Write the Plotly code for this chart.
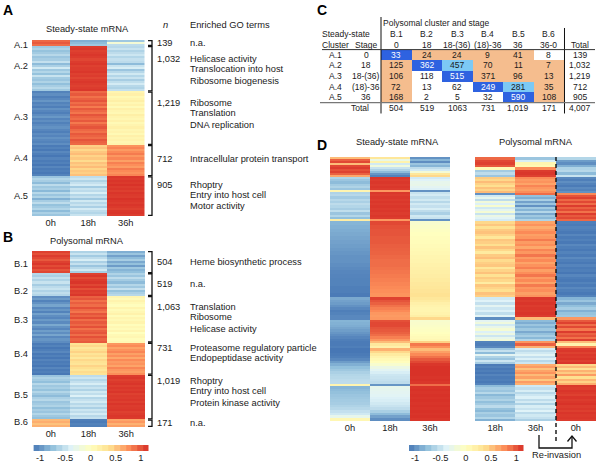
import plotly.graph_objects as go

# ---------- Panel A: steady-state mRNA (one inner list per cluster, rows top to bottom)
A_clusters = ["A.1", "A.2", "A.3", "A.4", "A.5"]
A_n = [139, 1032, 1219, 712, 905]
A_0h = [
    [0.92, 0.98, 0.9],
    [-0.7,-0.62,-0.74,-0.68,-0.58,-0.72,-0.66,-0.52,-0.78,-0.64,-0.45,-0.7,-0.6,-0.74,-0.5,-0.68,-0.72,-0.62,-0.76,-0.66,-0.58,-0.7],
    [-1.08,-1.02,-1.1,-1.05,-0.98,-1.08,-1.04,-1.1,-1.0,-1.06,-1.1,-1.03,-0.97,-1.07,-1.02,-1.09,-1.04,-1.0,-1.06,-1.1,-1.03,-1.07,-1.0,-1.05,-1.08,-1.02],
    [-1.12,-1.08,-1.13,-1.05,-1.1,-1.14,-1.07,-1.12,-1.09,-1.14,-1.06,-1.12,-1.1,-1.13,-1.08],
    [-0.72,-0.6,-0.66,-0.78,-0.56,-0.7,-0.64,-0.8,-0.58,-0.72,-0.62,-0.84,-0.66,-0.55,-0.74,-0.68,-0.6,-0.78,-0.64,-0.72],
]
A_18h = [
    [-0.85, -0.78, -0.7],
    [1.1,1.12,1.08,1.1,1.12,1.1,1.06,1.1,1.12,1.08,1.1,1.1,1.12,1.08,1.1,1.06,1.1,1.12,1.1,1.08,1.1,1.12],
    [0.92,0.98,0.88,0.95,1.0,0.9,0.96,0.84,0.98,0.92,0.86,1.0,0.94,0.9,0.98,0.85,0.95,1.0,0.92,0.88,0.98,0.94,0.9,1.0,0.95,0.92],
    [0.46,0.52,0.42,0.5,0.55,0.44,0.5,0.4,0.52,0.47,0.55,0.43,0.5,0.46,0.53],
    [-0.55,-0.48,-0.62,-0.52,-0.44,-0.68,-0.5,-0.56,-0.42,-0.6,-0.52,-0.7,-0.46,-0.58,-0.5,-0.64,-0.44,-0.55,-0.6,-0.5],
]
A_36h = [
    [-0.7, -0.15, -0.55],
    [-0.58,-0.5,-0.62,-0.55,-0.48,-0.6,-0.52,-0.56,-0.78,-0.5,-0.42,-0.72,-0.58,-0.46,-0.6,-0.5,-0.66,-0.54,-0.44,-0.58,-0.62,-0.52],
    [0.12,0.18,0.08,0.14,0.2,0.1,0.16,0.06,0.18,0.12,0.09,0.2,0.14,0.1,0.17,0.07,0.13,0.19,0.11,0.15,0.08,0.18,0.12,0.16,0.1,0.14],
    [0.74,0.8,0.7,0.78,0.84,0.72,0.8,0.68,0.82,0.76,0.7,0.84,0.78,0.74,0.8],
    [1.12,1.1,1.13,1.11,1.14,1.1,1.12,1.09,1.13,1.11,1.1,1.14,1.12,1.1,1.13,1.11,1.08,1.12,1.13,1.1],
]

# ---------- Panel B: polysomal mRNA
B_clusters = ["B.1", "B.2", "B.3", "B.4", "B.5", "B.6"]
B_n = [504, 519, 1063, 731, 1019, 171]
B_0h = [
    [1.08,1.02,1.1,1.05,0.98,1.08,1.12,1.04,1.1,1.0,1.06],
    [-0.58,-0.64,-0.52,-0.62,-0.5,-0.66,-0.56,-0.5,-0.62,-0.54,-0.6],
    [-1.02,-0.95,-1.08,-1.0,-0.9,-1.05,-0.98,-1.08,-0.92,-1.02,-1.06,-0.96,-1.04,-0.88,-1.0,-1.06,-0.94,-1.02,-0.9,-1.05,-0.98,-1.03],
    [-1.12,-1.08,-1.14,-1.1,-1.05,-1.13,-1.09,-1.14,-1.07,-1.12,-1.1,-1.14,-1.06,-1.12,-1.09,-1.13],
    [-0.72,-0.62,-0.68,-0.76,-0.58,-0.7,-0.65,-0.74,-0.6,-0.7,-0.78,-0.64,-0.58,-0.72,-0.68,-0.62,-0.76,-0.66,-0.72,-0.6,-0.7,-0.75],
    [0.56, 0.62, 0.52, 0.6],
]
B_18h = [
    [-0.62,-0.5,-0.68,-0.55,-0.42,-0.64,-0.52,-0.72,-0.58,-0.46,-0.66],
    [1.08,1.12,1.04,1.1,1.13,1.06,1.12,1.02,1.1,1.08,1.12],
    [0.95,1.0,0.88,0.96,0.9,1.02,0.92,0.86,1.0,0.94,1.04,0.9,0.98,0.92,1.02,0.88,0.96,1.0,0.9,1.02,0.94,0.98],
    [0.35,0.42,0.3,0.38,0.45,0.33,0.4,0.28,0.42,0.36,0.32,0.44,0.38,0.3,0.4,0.35],
    [-0.55,-0.48,-0.6,-0.52,-0.42,-0.58,-0.5,-0.62,-0.46,-0.54,-0.4,-0.6,-0.52,-0.45,-0.58,-0.5,-0.64,-0.48,-0.55,-0.44,-0.58,-0.52],
    [-1.1, -1.12, -1.08, -1.1],
]
B_36h = [
    [-0.85,-0.72,-0.92,-0.78,-0.66,-0.88,-0.75,-0.95,-0.7,-0.82,-0.76],
    [-0.62,-0.72,-0.55,-0.68,-0.78,-0.6,-0.7,-0.52,-0.74,-0.64,-0.58],
    [0.12,0.06,0.15,0.08,0.02,0.14,0.05,0.1,0.16,0.04,0.12,0.07,0.14,0.03,0.1,0.05,0.13,0.0,0.08,0.11,0.04,0.09],
    [0.72,0.78,0.66,0.74,0.8,0.68,0.76,0.64,0.78,0.7,0.74,0.66,0.8,0.72,0.68,0.76],
    [1.1,1.12,1.08,1.11,1.13,1.09,1.12,1.1,1.13,1.08,1.11,1.1,1.12,1.09,1.13,1.1,1.11,1.12,1.08,1.1,1.12,1.11],
    [0.66, 0.72, 0.6, 0.68],
]

# ---------- Panel C: contingency table
C_rows = ["A.1", "A.2", "A.3", "A.4", "A.5"]
C_row_stage = ["0", "18", "18-(36)", "(18)-36", "36"]
C_cols = ["B.1", "B.2", "B.3", "B.4", "B.5", "B.6"]
C_col_stage = ["0", "18", "18-(36)", "(18)-36", "36", "36-0"]
C_counts = [
    [33, 24, 24, 9, 41, 8],
    [125, 362, 457, 70, 11, 7],
    [106, 118, 515, 371, 96, 13],
    [72, 13, 62, 249, 281, 35],
    [168, 2, 5, 32, 590, 108],
]
C_class = [  # 0 none, 1 enriched, 2 second match, 3 best match
    [3, 1, 1, 1, 1, 0],
    [1, 3, 2, 1, 1, 1],
    [1, 0, 3, 1, 1, 1],
    [1, 0, 0, 3, 2, 1],
    [1, 0, 0, 0, 3, 1],
]
C_row_total = ["139", "1,032", "1,219", "712", "905"]
C_col_total = ["504", "519", "1063", "731", "1,019", "171"]
C_grand_total = "4,007"

# ---------- Panel D: reordered heat maps, bands in gene counts
DL_n = [304, 197, 30, 410, 30, 1154, 304, 45, 425, 546, 30, 486, 46]
DL_0h = [
    [0.55,0.95,1.05,0.55,1.05,1.1,1.02,1.08,0.95,0.65],
    [-0.62,-0.72,-0.78,-0.68,-0.62,-0.72],
    [0.12],
    [-0.62,-0.58,-0.68,-0.58,-0.64,-0.55,-0.6,-0.66,-0.54,-0.72,-0.6,-0.76],
    [0.22],
    [-0.82,-0.84,-0.86,-0.88,-0.9,-0.92,-0.94,-0.96,-0.98,-1.0,-1.0,-1.02,-1.04,-1.06,-1.07,-1.08,-1.08,-1.1,-1.1,-1.12],
    [-0.88,-0.92,-0.95,-1.0,-1.05,-1.1,-1.08,-1.05],
    [-1.05],
    [-0.82,-0.84,-0.86,-0.9,-0.94,-0.98,-1.02,-1.06,-1.1,-1.12,-1.12,-1.1],
    [-1.14,-1.14,-1.12,-1.1,-1.05,-0.95,-0.85,-0.76,-0.7,-0.64,-0.6,-0.58,-0.56,-0.55],
    [0.12],
    [-0.82,-0.78,-0.75,-0.72,-0.7,-0.68,-0.66,-0.62,-0.58,-0.52,-0.46,-0.3],
    [0.1],
]
DL_18h = [
    [0.3,-0.25,0.15,-0.45,-0.2,-0.5,-0.62,-0.78,-0.98,-1.08],
    [1.12,1.1,1.12,1.1,1.12,1.1],
    [0.72],
    [1.12,1.1,1.12,1.1,1.12,1.1,1.12,1.1,1.12,1.1,1.12,1.1],
    [0.72],
    [1.05,1.02,1.0,1.0,0.98,0.98,0.96,0.95,0.94,0.92,0.9,0.9,0.88,0.86,0.84,0.82,0.8,0.78,0.76,0.74],
    [1.08,1.0,0.95,0.88,0.82,0.78,0.72,0.7],
    [0.72],
    [1.02,1.05,1.05,1.0,0.98,0.95,0.9,0.82,0.72,0.55,0.28,0.18],
    [0.6,0.42,0.25,0.15,0.08,0.02,-0.1,-0.25,-0.35,-0.42,-0.48,-0.5,-0.52,-0.55],
    [-0.98],
    [-0.3,-0.32,-0.34,-0.36,-0.4,-0.42,-0.46,-0.5,-0.55,-0.65,-0.78,-0.92],
    [-1.02],
]
DL_36h = [
    [-1.0,-0.82,-1.02,-0.72,-0.82,-0.55,-0.45,-0.15,0.3,0.42],
    [-0.45,-0.38,-0.3,-0.28,-0.34,-0.4],
    [-1.0],
    [-0.5,-0.44,-0.54,-0.46,-0.58,-0.45,-0.52,-0.42,-0.55,-0.64,-0.46,-0.5],
    [-1.0],
    [-0.1,-0.06,-0.02,0.0,0.02,0.04,0.06,0.08,0.1,0.12,0.14,0.16,0.18,0.2,0.22,0.25,0.28,0.3,0.33,0.36],
    [0.3,0.25,0.18,0.15,0.12,0.12,0.15,0.2],
    [0.42],
    [-0.1,-0.08,-0.06,-0.04,-0.02,0.0,0.03,0.06,0.1,0.45,0.85,0.75],
    [0.55,0.68,0.78,0.88,0.98,1.05,1.12,1.14,1.14,1.14,1.14,1.13,1.14,1.12],
    [0.9],
    [1.13,1.14,1.13,1.14,1.13,1.14,1.13,1.14,1.13,1.14,1.13,1.14],
    [1.12],
]

DR_n = [152, 152, 243, 23, 402, 1154, 304, 45, 319, 106, 235, 326, 546]
DR_18h = [
    [0.92, 1.05, 1.08, 0.98],
    [0.08, -0.68, -0.55, -0.72],
    [0.48,0.42,0.55,0.45,0.38,0.52,0.44,0.56],
    [-1.0],
    [-0.45,-0.3,-0.55,-0.18,-0.4,-0.1,-0.46,-0.32,-0.14,-0.5,-0.25,-0.36,-0.44],
    [0.42,0.5,0.36,0.48,0.52,0.44,0.3,0.5,0.46,0.38,0.52,0.42,0.26,0.48,0.54,0.4,0.46,0.5,0.3,0.44,0.52,0.36,0.48,0.42,0.24,0.5,0.44,0.38,0.52,0.46],
    [-0.46,-0.38,-0.52,-0.34,-0.48,-0.4,-0.54,-0.36],
    [-1.02],
    [-0.34,-0.2,-0.45,-0.28,-0.14,-0.4,-0.24,-0.48,-0.3,-0.18],
    [-1.08,-1.1,-1.05],
    [-0.7,-0.52,-0.78,-0.34,-0.62,-0.72,-0.48,-0.66],
    [-1.12,-1.08,-1.13,-1.1,-1.14,-1.07,-1.12,-1.1,-1.13,-1.08],
    [-0.78,-0.66,-0.72,-0.58,-0.8,-0.7,-0.62,-0.76,-0.68,-0.56,-0.74,-0.8,-0.65,-0.72,-0.6,-0.84],
]
DR_36h = [
    [-0.72, -0.42, 0.12, 0.08],
    [0.78, 1.1, 1.12, 1.08],
    [0.78,0.7,0.74,0.66,0.8,0.72,0.68,0.76],
    [0.9],
    [-0.75,-0.85,-0.65,-0.92,-0.72,-1.0,-0.68,-0.82,-0.6,-0.88,-0.7,-0.8,-0.62],
    [0.66,0.74,0.62,0.7,0.78,0.68,0.72,0.84,0.7,0.76,0.64,0.8,0.72,0.86,0.7,0.78,0.66,0.74,0.82,0.68,0.76,0.86,0.7,0.78,0.66,0.84,0.72,0.76,0.68,0.74],
    [1.12,1.1,1.13,1.1,1.12,1.11,1.13,1.1],
    [0.55],
    [-0.78,-0.86,-0.72,-0.82,-0.7,-0.88,-0.75,-0.66,-0.8,-0.6],
    [0.72,0.95,0.6],
    [-0.42,-0.55,-0.46,-0.36,-0.52,-0.4,-0.58,-0.48],
    [0.62,0.7,0.52,0.66,0.74,0.56,0.68,0.5,0.7,0.6],
    [-0.46,-0.54,-0.42,-0.58,-0.48,-0.4,-0.55,-0.44,-0.62,-0.42,-0.5,-0.38,-0.56,-0.46,-0.52,-0.64],
]
DR_0h = [
    [-0.6, -0.95, -1.02, -0.85],
    [-0.62, -0.58, -0.78, -0.5],
    [-1.05,-1.1,-1.02,-1.08,-1.12,-1.04,-1.08,-1.0],
    [0.78],
    [1.0,1.08,0.92,1.05,0.9,1.1,0.95,1.04,0.88,1.1,0.98,1.05,0.92],
    [-1.1,-1.12,-1.08,-1.1,-1.13,-1.06,-1.12,-1.09,-1.13,-1.05,-1.1,-1.13,-1.08,-1.12,-1.04,-1.1,-1.13,-1.07,-1.12,-1.1,-1.14,-1.06,-1.11,-1.13,-1.08,-1.12,-1.05,-1.1,-1.13,-1.08],
    [-0.82,-0.72,-0.88,-0.76,-0.66,-0.84,-0.74,-0.7],
    [0.72],
    [0.98,1.08,0.9,1.05,0.85,1.1,0.95,1.02,0.88,1.08],
    [0.55,0.15,0.82],
    [1.1,1.12,1.08,1.12,1.1,1.13,1.08,1.12],
    [0.42,0.55,0.35,0.6,0.48,0.7,0.38,0.58,0.45,0.62],
    [1.12,1.1,1.13,1.11,1.08,1.13,1.1,1.12,1.14,1.1,1.12,1.09,1.13,1.11,1.12,1.1],
]

# ---------- Colour key steps
KEY_STEPS = [-1.08,-0.97,-0.85,-0.74,-0.62,-0.51,-0.39,-0.28,-0.16,-0.05,0.07,0.18,0.3,0.41,0.53,0.64,0.76,0.87,0.99,1.1]
KEY_TICKS = [-1, -0.5, 0, 0.5, 1]
KEY_LABELS = ["-1", "-0.5", "0", "0.5", "1"]

# ---------- GO-term text
A_GO = [["n.a."], ["Helicase activity", "Translocation into host", "Ribosome biogenesis"],
        ["Ribosome", "Translation", "DNA replication"], ["Intracellular protein transport"],
        ["Rhoptry", "Entry into host cell", "Motor activity"]]
B_GO = [["Heme biosynthetic process"], ["n.a."], ["Translation", "Ribosome", "Helicase activity"],
        ["Proteasome regulatory particle", "Endopeptidase activity"],
        ["Rhoptry", "Entry into host cell", "Protein kinase activity"], ["n.a."]]

# ---------- Styles and layout helpers
W, H = 600, 464
FONT = "Liberation Sans"
TXT = "#1a1a1a"
COLORS = ["#4575B4", "#91BFDB", "#E0F3F8", "#FFFFBF", "#FEE090", "#FC8D59", "#D73027"]
SCALE = [[i / 6, c] for i, c in enumerate(COLORS)]
ZR = 1.15

def px(x):
    return x / W

def py(y):
    return 1 - y / H

fig = go.Figure()
layout = dict(width=W, height=H, margin=dict(l=0, r=0, t=0, b=0), autosize=False,
              paper_bgcolor="white", plot_bgcolor="white", showlegend=False,
              font=dict(family=FONT, size=9.3, color=TXT))
anns, shapes = [], []
axis_no = [0]

def new_axes(x0, x1, y0, y1, xkw, ykw):
    axis_no[0] += 1
    k = axis_no[0]
    s = "" if k == 1 else str(k)
    layout["xaxis" + s] = dict(domain=[px(x0), px(x1)], anchor="y" + s, showgrid=False, zeroline=False, **xkw)
    layout["yaxis" + s] = dict(domain=[py(y1), py(y0)], anchor="x" + s, showgrid=False, zeroline=False, **ykw)
    return "x" + s, "y" + s

def flatten(ns, cols):
    edges, z = [0.0], []
    for b, n in enumerate(ns):
        k = len(cols[0][b])
        for r in range(k):
            edges.append(edges[-1] + n / k)
            z.append([c[b][r] for c in cols])
    return edges, z

def heat(x0, x1, y0, y1, ns, cols, labels):
    edges, z = flatten(ns, cols)
    xa, ya = new_axes(x0, x1, y0, y1,
                      dict(ticklen=0, tickfont=dict(size=9.3, family=FONT, color=TXT), showline=False, ticks=""),
                      dict(range=[edges[-1], 0], showticklabels=False, ticks="", showline=False))
    fig.add_trace(go.Heatmap(x=labels, y=edges, z=z, xaxis=xa, yaxis=ya, colorscale=SCALE,
                             zmin=-ZR, zmax=ZR, showscale=False, hoverinfo="skip", xgap=0, ygap=0))
    return edges

def key(x0, x1, y0, y1, lo, hi):
    xa, ya = new_axes(x0, x1, y0, y1,
                      dict(range=[lo, hi], tickmode="array", tickvals=KEY_TICKS, ticktext=KEY_LABELS, ticklen=0,
                           tickfont=dict(size=9.3, family=FONT, color=TXT), showline=False, ticks=""),
                      dict(showticklabels=False, ticks="", showline=False))
    fig.add_trace(go.Heatmap(x=KEY_STEPS, y=["k"], z=[KEY_STEPS], xaxis=xa, yaxis=ya, colorscale=SCALE,
                             zmin=-ZR, zmax=ZR, showscale=False, hoverinfo="skip"))

def text(x, y, s, anchor="center", size=9.3, bold=False, italic=False, color=TXT):
    if bold:
        s = "<b>" + s + "</b>"
    if italic:
        s = "<i>" + s + "</i>"
    anns.append(dict(x=px(x), y=py(y), xref="paper", yref="paper", text=s, showarrow=False, xanchor=anchor,
                     yanchor="middle", font=dict(size=size, color=color, family=FONT), borderpad=0))

def path(points, width=1.3, color="#111111", dash=None):
    d = "M " + " L ".join(f"{px(a):.5f},{py(b):.5f}" for a, b in points)
    line = dict(color=color, width=width)
    if dash:
        line["dash"] = dash
    shapes.append(dict(type="path", path=d, xref="paper", yref="paper", line=line))

# Panel A and B heat maps
LBL3 = ["0h", "18h", "36h"]
AX0, AX1, AY0, AY1 = 32, 144.5, 40, 216
BX0, BX1, BY0, BY1 = 32, 145, 251, 427
ea = heat(AX0, AX1, AY0, AY1, A_n, [A_0h, A_18h, A_36h], LBL3)
eb = heat(BX0, BX1, BY0, BY1, B_n, [B_0h, B_18h, B_36h], LBL3)

def cluster_side(ns, y0, y1, names, go_terms, label_y, n_y, go_y):
    tot = sum(ns)
    c = 0
    for i, n in enumerate(ns):
        top = y0 + (y1 - y0) * c / tot + 0.6
        bot = y0 + (y1 - y0) * (c + n) / tot - 0.6
        c += n
        path([(148, top), (152, top), (152, bot), (148, bot)])
        text(21, label_y[i], names[i])
        text(156.5, n_y[i], f"{n:,}", "left")
        for t, yy in zip(go_terms[i], go_y[i]):
            text(189, yy, t, "left")

cluster_side(A_n, AY0, AY1, A_clusters, A_GO, [45, 65.6, 117, 158, 196], [43, 59, 102.5, 159, 184.6],
             [[43], [59, 69.5, 81], [102.5, 113, 125], [159], [184.6, 195, 206.5]])
cluster_side(B_n, BY0, BY1, B_clusters, B_GO, [263.7, 291, 320, 354, 395, 421.7], [262, 284, 306.7, 348, 380.7, 422.7],
             [[262], [284], [306.7, 317, 329], [347.7, 358], [380.7, 391, 403], [422.7]])

text(87, 29, "Steady-state mRNA")
text(87, 240.7, "Polysomal mRNA")
text(165, 25, "n", italic=True)
text(189, 25, "Enriched GO terms", "left")
key(33.5, 148.5, 445, 451, -1.13, 1.15)

# Panel C table body
TX0, TX1, TY0, TY1 = 381, 564, 49.7, 102.3
xa, ya = new_axes(TX0, TX1, TY0, TY1,
                  dict(type="category", categoryorder="array", categoryarray=C_cols, showticklabels=False, ticks="", range=[-0.5, 5.5]),
                  dict(type="category", categoryorder="array", categoryarray=C_rows, showticklabels=False, ticks="", range=[4.5, -0.5]))
CLASS_SCALE = [[0, "#FFFFFF"], [0.25, "#FFFFFF"], [0.25, "#F5BD8E"], [0.5, "#F5BD8E"],
               [0.5, "#7CC9F5"], [0.75, "#7CC9F5"], [0.75, "#2E62E0"], [1, "#2E62E0"]]
fig.add_trace(go.Heatmap(x=C_cols, y=C_rows, z=C_class, xaxis=xa, yaxis=ya, colorscale=CLASS_SCALE,
                         zmin=0, zmax=3, showscale=False, hoverinfo="skip"))
TS = 8.5
col_w = (TX1 - TX0) / 6
row_h = (TY1 - TY0) / 5
for i, row in enumerate(C_counts):
    yc = TY0 + row_h * (i + 0.5)
    text(335, yc, C_rows[i], size=TS)
    text(366, yc, C_row_stage[i], size=TS)
    text(580, yc, C_row_total[i], size=TS)
    for j, v in enumerate(row):
        col = "white" if C_class[i][j] == 3 else TXT
        text(TX0 + col_w * (j + 0.5), yc, str(v), size=TS, color=col)
for j in range(6):
    xc = TX0 + col_w * (j + 0.5)
    text(xc, 34, C_cols[j], size=TS)
    text(xc, 44.5, C_col_stage[j], size=TS)
    text(xc, 108, C_col_total[j], size=TS)
text(580, 44.5, "Total", size=TS)
text(360, 108, "Total", size=TS)
text(580, 108, C_grand_total, size=TS)
text(346, 34, "Steady-state", size=TS)
text(335, 44.5, "Cluster", size=TS)
text(366, 44.5, "Stage", size=TS)
text(382, 23, "Polysomal cluster and stage", "left", size=TS)
path([(381, 17), (381, 113.5)], 1)
path([(564.5, 28), (564.5, 113.5)], 1)
path([(322, 49.6), (595, 49.6)], 1, "#333333")
path([(320, 102.6), (595, 102.6)], 1.3, "#777777")

# Panel D
heat(330, 450, 157, 421, DL_n, [DL_0h, DL_18h, DL_36h], LBL3)
heat(475, 596, 157, 421, DR_n, [DR_18h, DR_36h, DR_0h], ["18h", "36h", "0h"])
key(409, 523.5, 445, 451, -1.12, 1.14)
text(397, 142, "Steady-state mRNA")
text(536, 142, "Polysomal mRNA")
text(556, 455, "Re-invasion")
path([(556, 157), (556, 443)], 1.4, "#111111", "4px,3px")
path([(539, 435), (539, 448), (572, 448), (572, 436)], 1.3)
path([(567.5, 441.5), (572, 436), (576.5, 441.5)], 1.3)

# Panel letters
text(2, 10, "A", "left", 14, True, color="black")
text(2, 237, "B", "left", 14, True, color="black")
text(316, 10, "C", "left", 14, True, color="black")
text(316, 145, "D", "left", 14, True, color="black")

layout["annotations"] = anns
layout["shapes"] = shapes
fig.update_layout(**layout)
fig.write_html("out.html", post_script="document.body.style.margin='0';", config=dict(displayModeBar=False))
